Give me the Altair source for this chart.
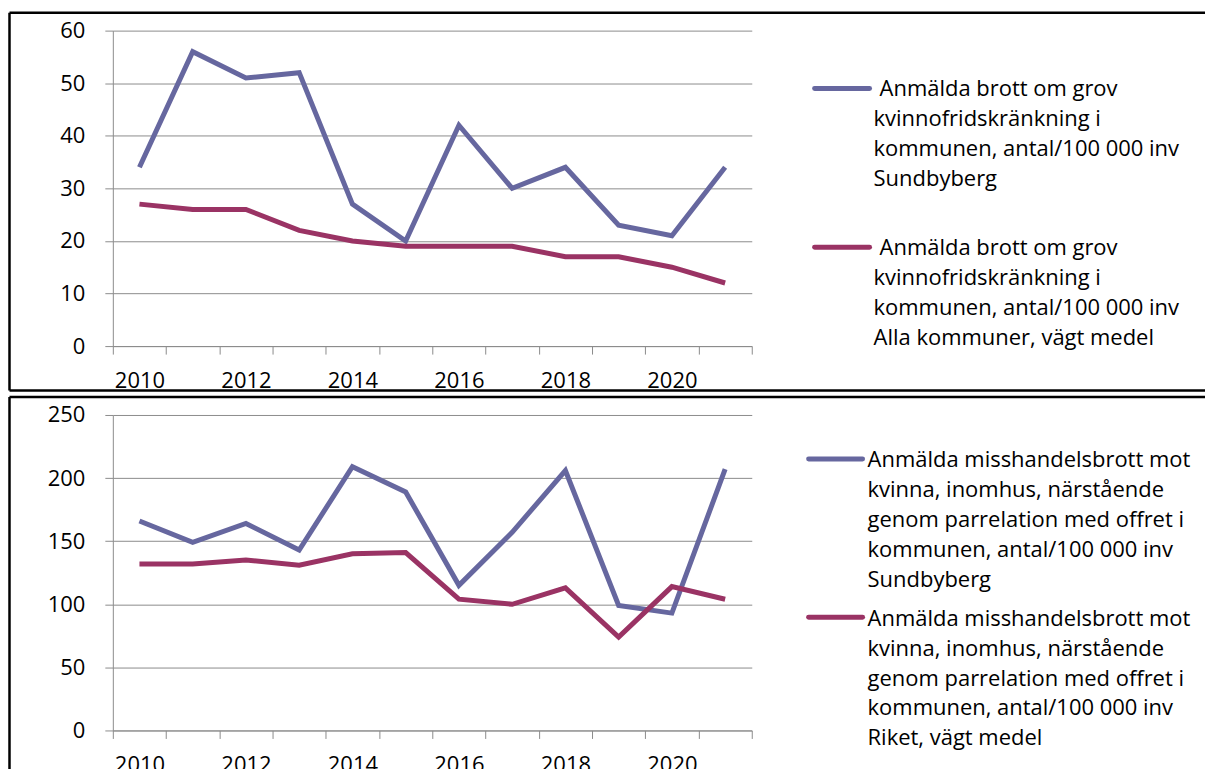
import altair as alt
import pandas as pd

years = list(range(2010, 2022))

top_sundbyberg = [34, 56, 51, 52, 27, 20, 42, 30, 34, 23, 21, 34]
top_alla = [27, 26, 26, 22, 20, 19, 19, 19, 17, 17, 15, 12]

bot_sundbyberg = [166, 149, 164, 143, 209, 189, 115, 157, 206, 99, 93, 207]
bot_riket = [132, 132, 135, 131, 140, 141, 104, 100, 113, 74, 114, 104]

top_label_1 = ["Anmälda brott om grov", "kvinnofridskränkning i",
               "kommunen, antal/100 000 inv", "Sundbyberg"]
top_label_2 = ["Anmälda brott om grov", "kvinnofridskränkning i",
               "kommunen, antal/100 000 inv", "Alla kommuner, vägt medel"]
bot_label_1 = ["Anmälda misshandelsbrott mot", "kvinna, inomhus, närstående",
               "genom parrelation med offret i", "kommunen, antal/100 000 inv",
               "Sundbyberg"]
bot_label_2 = ["Anmälda misshandelsbrott mot", "kvinna, inomhus, närstående",
               "genom parrelation med offret i", "kommunen, antal/100 000 inv",
               "Riket, vägt medel"]

series = ["Sundbyberg", "Medel"]
colors = ["#66679F", "#9A3364"]

FONT = "Open Sans"
FS = 22
LH = 30
GRAY = "#8C8C8C"

color_enc = alt.Color("serie:N", scale=alt.Scale(domain=series, range=colors), legend=None)


def long_df(a, b):
    return pd.DataFrame({
        "year": [str(y) for y in years] * 2,
        "value": a + b,
        "serie": [series[0]] * len(years) + [series[1]] * len(years),
    })


def border(top_y, bottom_y, left_x, right_x, draw_bottom):
    d = pd.DataFrame({"k": [0]})
    base = alt.Chart(d).mark_rule(color="black", strokeWidth=2.5)
    layers = [
        base.encode(x=alt.value(left_x), x2=alt.value(right_x), y=alt.value(top_y)),
        base.encode(x=alt.value(left_x), y=alt.value(top_y), y2=alt.value(bottom_y)),
    ]
    if draw_bottom:
        layers.append(base.encode(x=alt.value(left_x), x2=alt.value(right_x), y=alt.value(bottom_y)))
    return layers


def text_block(s, x, y):
    d = pd.DataFrame({"label": [s]})
    return alt.Chart(d).mark_text(
        align="left", baseline="alphabetic", font=FONT, fontSize=FS,
        lineBreak="\n", lineHeight=LH, color="black").encode(
        x=alt.value(x), y=alt.value(y), text="label:N")


def legend_entry(serie, lines, rx1, rx2, ry, tx, ty, indent):
    d = pd.DataFrame({"serie": [serie]})
    rule = alt.Chart(d).mark_rule(strokeWidth=5, strokeCap="round").encode(
        x=alt.value(rx1), x2=alt.value(rx2), y=alt.value(ry), color=color_enc)
    first = text_block(lines[0], tx + indent, ty)
    rest = text_block("\n".join(lines[1:]), tx, ty + LH)
    return [rule, first, rest]


def panel(a, b, ymax, ystep, leg, border_layers):
    df = long_df(a, b)
    lines = alt.Chart(df).mark_line(strokeWidth=5).encode(
        x=alt.X("year:O", bandPosition=0.5,
                scale=alt.Scale(type="band", paddingInner=0, paddingOuter=0),
                axis=alt.Axis(title=None, labelAngle=0, tickBand="extent", tickExtra=True,
                              labelExpr="toNumber(datum.value) % 2 == 0 ? datum.label : ''",
                              tickSize=8, tickColor=GRAY, domainColor=GRAY,
                              labelPadding=16, labelFont=FONT, labelFontSize=FS,
                              labelColor="black", grid=False)),
        y=alt.Y("value:Q", scale=alt.Scale(domain=[0, ymax], nice=False),
                axis=alt.Axis(title=None, values=list(range(0, ymax + 1, ystep)),
                              tickSize=8, tickColor=GRAY, domainColor=GRAY,
                              gridColor=GRAY, grid=True, labelPadding=20,
                              labelFont=FONT, labelFontSize=FS, labelColor="black")),
        color=color_enc,
    )
    return alt.layer(lines, *leg, *border_layers).properties(width=640, height=316)


top = panel(
    top_sundbyberg, top_alla, 60, 10,
    legend_entry(series[0], top_label_1, 703, 758, 58, 762, 65.5, 6)
    + legend_entry(series[1], top_label_2, 703, 758, 217, 762, 225, 6),
    border(-18, 360.5, -103.5, 1094, True),
)

bottom = panel(
    bot_sundbyberg, bot_riket, 250, 50,
    legend_entry(series[0], bot_label_1, 697, 751, 44, 756, 52.3, 0)
    + legend_entry(series[1], bot_label_2, 697, 751, 202.7, 756, 211, 0),
    border(-18, 380, -103.5, 1094, False),
)

chart = alt.vconcat(top, bottom, spacing=69, bounds="flush").properties(
    padding={"left": 0, "top": 2, "right": 0, "bottom": 0}
).configure_view(stroke=None)

chart.save("out.html", embed_options={"renderer": "svg", "actions": False})
